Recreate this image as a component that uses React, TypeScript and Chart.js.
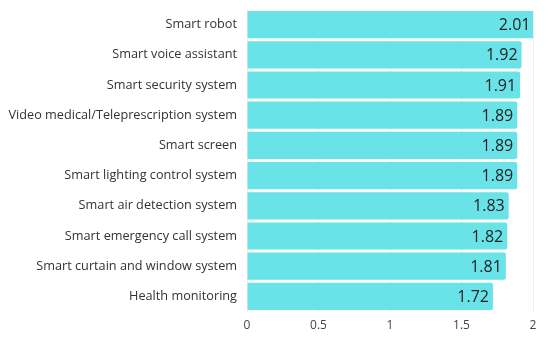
import React, { useEffect, useRef } from "react";
import { Chart, registerables } from "chart.js";

Chart.register(...registerables);

const categories = [
  "Smart robot",
  "Smart voice assistant",
  "Smart security system",
  "Video medical/Teleprescription system",
  "Smart screen",
  "Smart lighting control system",
  "Smart air detection system",
  "Smart emergency call system",
  "Smart curtain and window system",
  "Health monitoring",
];
const values = [2.01, 1.92, 1.91, 1.89, 1.89, 1.89, 1.83, 1.82, 1.81, 1.72];
const xTicks = [0, 0.5, 1, 1.5, 2];

const FONT = "'Open Sans', sans-serif";

const valueLabels = {
  id: "valueLabels",
  afterDatasetsDraw(chart: any) {
    const ctx = chart.ctx;
    const meta = chart.getDatasetMeta(0);
    ctx.save();
    ctx.font = `16px ${FONT}`;
    ctx.fillStyle = "#222";
    ctx.textAlign = "right";
    ctx.textBaseline = "middle";
    meta.data.forEach((bar: any, i: number) => {
      ctx.fillText(values[i].toFixed(2), bar.x - 4, bar.y + 1);
    });
    ctx.restore();
  },
};

export default function App() {
  const ref = useRef<HTMLCanvasElement>(null);
  useEffect(() => {
    document.body.style.margin = "0";
    const chart = new Chart(ref.current!, {
      type: "bar",
      data: {
        labels: categories,
        datasets: [
          {
            data: values,
            backgroundColor: "#6ae3e8",
            borderWidth: 0,
            borderRadius: 2,
            borderSkipped: "start",
            barPercentage: 0.9,
            categoryPercentage: 1,
          },
        ],
      },
      options: {
        indexAxis: "y",
        animation: false,
        responsive: false,
        layout: { padding: { top: 9.5, right: 17, bottom: 0, left: 0 } },
        plugins: { legend: { display: false }, tooltip: { enabled: false } },
        scales: {
          x: {
            min: 0,
            max: 2,
            afterBuildTicks: (s: any) => {
              s.ticks = xTicks.map((v) => ({ value: v }));
            },
            afterFit: (s: any) => {
              s.height = 29.5;
              s.paddingLeft = 0;
              s.paddingRight = 0;
            },
            grid: { color: "#f0f0f0", drawTicks: false },
            border: { display: false },
            ticks: {
              color: "#444",
              font: { family: FONT, size: 12 },
              padding: 7,
              callback: (v: any) => String(v),
            },
          },
          y: {
            afterFit: (s: any) => {
              s.width = 247;
              s.paddingTop = 0;
              s.paddingBottom = 0;
            },
            grid: { display: false, drawTicks: false },
            border: { display: false },
            ticks: {
              color: "#333",
              font: { family: FONT, size: 12.7 },
              padding: 10,
            },
          },
        },
      },
      plugins: [valueLabels],
    });
    return () => chart.destroy();
  }, []);
  return (
    <div style={{ width: 550, height: 341 }}>
      <canvas ref={ref} width={550} height={341} />
    </div>
  );
}
